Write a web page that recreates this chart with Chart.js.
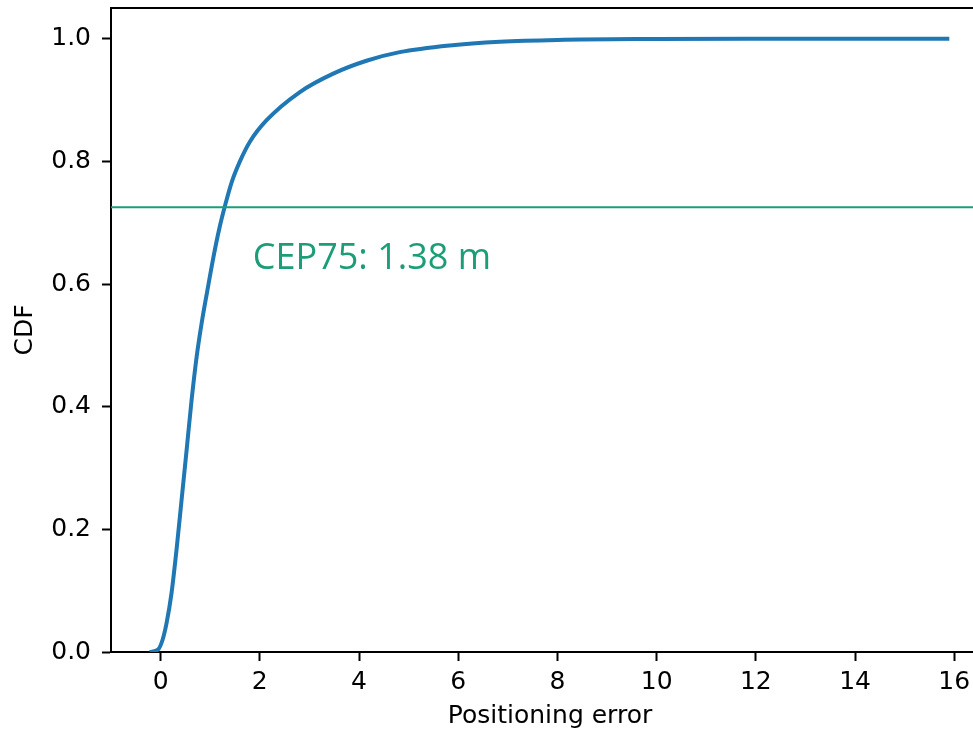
<!DOCTYPE html>
<html>
<head>
<meta charset="utf-8">
<script src="https://cdn.jsdelivr.net/npm/chart.js@4/dist/chart.umd.min.js"></script>
<style>
    html, body { margin: 0; padding: 0; overflow: hidden; background: #fff; }
    #wrap { position: relative; width: 1010px; height: 734px; }
</style>
</head>
<body>
<div id="wrap"><canvas id="cdfChart"></canvas></div>
<script>
const errorValues = [-0.22, -0.05, 0.04, 0.12, 0.22, 0.32, 0.423, 0.524, 0.625, 0.726, 0.827, 0.944,
    1.065, 1.185, 1.306, 1.437, 1.599, 1.80, 2.137, 2.808, 3.48, 4.15, 4.82, 5.83, 6.84, 8.0, 10.0, 12.0, 14.0, 15.9];
const cdfValues = [0, 0.004, 0.020, 0.047, 0.096, 0.166, 0.248, 0.329, 0.411, 0.481, 0.536, 0.590,
    0.644, 0.691, 0.730, 0.767, 0.800, 0.832, 0.867, 0.913, 0.943, 0.964, 0.978, 0.989, 0.995, 0.998, 0.9995, 1.0, 1.0, 1.0];

// Horizontal reference line and its label
const cepLevel = 0.725;
const cepLabel = 'CEP75: 1.38 m';
const cepLabelX = 1.86;
const cepLabelY = 0.624;

// Axis ranges and ticks
const xRange = [-1.0, 16.7];
const yRange = [0, 1.05];
const xTicks = [0, 2, 4, 6, 8, 10, 12, 14, 16];
const yTicks = [0.0, 0.2, 0.4, 0.6, 0.8, 1.0];

const tickFont = { family: '"DejaVu Sans", sans-serif', size: 25 };

// Draws the top and right spines of the axes box (matplotlib style frame)
const frameBox = {
    id: 'frameBox',
    afterDraw(chart) {
        const { ctx, chartArea } = chart;
        ctx.save();
        ctx.strokeStyle = '#000';
        ctx.lineWidth = 2;
        ctx.beginPath();
        ctx.moveTo(chartArea.left, chartArea.top);
        ctx.lineTo(chartArea.right, chartArea.top);
        ctx.lineTo(chartArea.right, chartArea.bottom);
        ctx.stroke();
        ctx.restore();
    }
};

// Text annotation placed in data coordinates
const cepText = {
    id: 'cepText',
    afterDatasetsDraw(chart) {
        const { ctx, scales } = chart;
        ctx.save();
        ctx.font = '36px "Open Sans", sans-serif';
        ctx.fillStyle = '#1b9e77';
        ctx.textAlign = 'left';
        ctx.textBaseline = 'alphabetic';
        ctx.fillText(cepLabel, scales.x.getPixelForValue(cepLabelX), scales.y.getPixelForValue(cepLabelY));
        ctx.restore();
    }
};

const curveData = errorValues.map((x, i) => ({ x: x, y: cdfValues[i] }));
const cepLineData = [{ x: xRange[0], y: cepLevel }, { x: xRange[1], y: cepLevel }];

const ctx = document.getElementById('cdfChart').getContext('2d');
new Chart(ctx, {
    type: 'line',
    data: {
        datasets: [{
            label: 'CDF',
            data: curveData,
            borderColor: '#1f77b4',
            borderWidth: 4,
            pointRadius: 0,
            fill: false,
            cubicInterpolationMode: 'monotone',
            order: 2
        }, {
            label: 'CEP75',
            data: cepLineData,
            borderColor: '#1b9e77',
            borderWidth: 2,
            pointRadius: 0,
            fill: false,
            order: 1
        }]
    },
    plugins: [frameBox, cepText],
    options: {
        responsive: true,
        maintainAspectRatio: false,
        animation: false,
        layout: { padding: { top: 8, left: 0, right: 21, bottom: 0 } },
        plugins: {
            legend: { display: false },
            tooltip: { enabled: false }
        },
        scales: {
            x: {
                type: 'linear',
                min: xRange[0],
                max: xRange[1],
                afterBuildTicks: (scale) => { scale.ticks = xTicks.map(v => ({ value: v })); },
                afterFit: (scale) => {
                    scale.height = 82;
                    scale.paddingLeft = 0;
                    scale.paddingRight = 0;
                },
                ticks: {
                    font: tickFont,
                    color: '#000',
                    padding: 6,
                    maxRotation: 0,
                    callback: (value) => String(value)
                },
                grid: {
                    drawOnChartArea: false,
                    drawTicks: true,
                    tickLength: 9,
                    tickWidth: 2,
                    tickColor: '#000'
                },
                border: { display: true, color: '#000', width: 2 },
                title: {
                    display: true,
                    text: 'Positioning error',
                    font: tickFont,
                    color: '#000',
                    padding: { top: 0, bottom: 3 }
                }
            },
            y: {
                type: 'linear',
                min: yRange[0],
                max: yRange[1],
                afterBuildTicks: (scale) => { scale.ticks = yTicks.map(v => ({ value: v })); },
                afterFit: (scale) => {
                    scale.width = 111;
                    scale.paddingTop = 0;
                    scale.paddingBottom = 0;
                },
                ticks: {
                    font: tickFont,
                    color: '#000',
                    padding: 11,
                    callback: (value) => value.toFixed(1)
                },
                grid: {
                    drawOnChartArea: false,
                    drawTicks: true,
                    tickLength: 9,
                    tickWidth: 2,
                    tickColor: '#000'
                },
                border: { display: true, color: '#000', width: 2 },
                title: {
                    display: true,
                    text: 'CDF',
                    font: tickFont,
                    color: '#000',
                    padding: { top: 10, bottom: 0 }
                }
            }
        }
    }
});
</script>
</body>
</html>
